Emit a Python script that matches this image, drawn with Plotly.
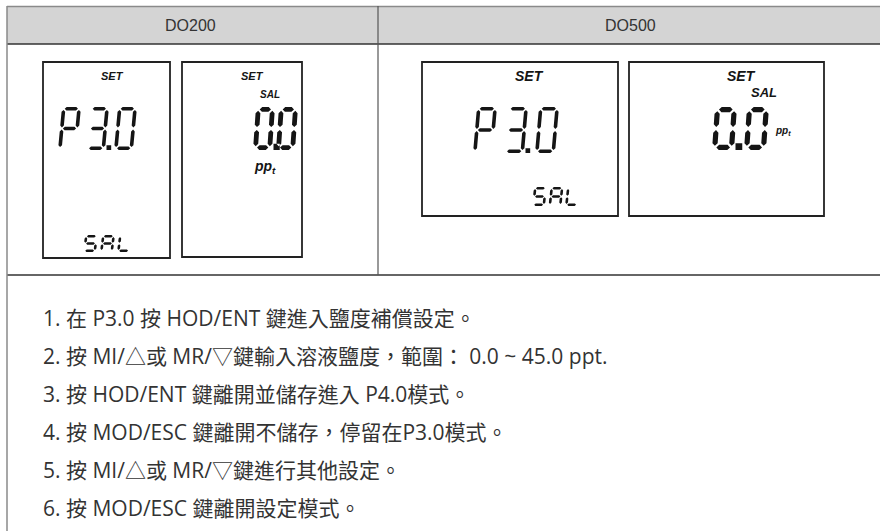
import plotly.graph_objects as go

# ---- content ----
headers = ["DO200", "DO500"]
lcd_main = ["P3.0", "0.0", "P3.0", "0.0"]
lcd_sub = ["SAL", "", "SAL", ""]
steps = [
    "1. 在 P3.0 按 HOD/ENT 鍵進入鹽度補償設定。",
    "2. 按 MI/△或 MR/▽鍵輸入溶液鹽度，範圍： 0.0 ~ 45.0 ppt.",
    "3. 按 HOD/ENT 鍵離開並儲存進入 P4.0模式。",
    "4. 按 MOD/ESC 鍵離開不儲存，停留在P3.0模式。",
    "5. 按 MI/△或 MR/▽鍵進行其他設定。",
    "6. 按 MOD/ESC 鍵離開設定模式。",
]

W_PX, H_PX = 880, 531
INK = "#151515"
TXT = "#333333"

SEGMAP = {
    "0": "abcdef", "3": "abcdg", "P": "abefg",
    "S": "afgcd", "A": "abcefg", "L": "def", " ": "",
}


def seg_polys(W, H, T):
    g = T * 0.3
    h2 = T / 2
    polys = {}

    def hseg(c):
        a, b = h2 + g, W - h2 - g
        return [(a, c), (a + h2, c - h2), (b - h2, c - h2), (b, c), (b - h2, c + h2), (a + h2, c + h2)]

    def vseg(c, top, bot):
        return [(c, top), (c + h2, top + h2), (c + h2, bot - h2), (c, bot), (c - h2, bot - h2), (c - h2, top + h2)]

    polys["a"] = hseg(h2)
    polys["g"] = hseg(H / 2)
    polys["d"] = hseg(H - h2)
    polys["f"] = vseg(h2, h2 + g, H / 2 - g)
    polys["b"] = vseg(W - h2, h2 + g, H / 2 - g)
    polys["e"] = vseg(h2, H / 2 + g, H - h2 - g)
    polys["c"] = vseg(W - h2, H / 2 + g, H - h2 - g)
    return polys


def seven_seg_path(text, x0, ytop, W, H, T, pitch, slant):
    parts = []

    def tr(u, v, cx):
        return (cx + u + slant * (H - v) / H, ytop + v)

    cx = x0
    last = x0
    polys = seg_polys(W, H, T)
    for ch in text:
        if ch == ".":
            d = T * 1.3
            ux = last + W + 1.5
            pts = [(ux, ytop + H - d), (ux + d, ytop + H - d), (ux + d, ytop + H), (ux, ytop + H)]
            parts.append("M " + " L ".join(f"{px:.2f},{py:.2f}" for px, py in pts) + " Z")
            continue
        for s in SEGMAP.get(ch, ""):
            pts = [tr(u, v, cx) for u, v in polys[s]]
            parts.append("M " + " L ".join(f"{px:.2f},{py:.2f}" for px, py in pts) + " Z")
        last = cx
        cx += pitch
    return " ".join(parts)


fig = go.Figure()
fig.add_trace(go.Scatter(x=[0], y=[0], mode="markers", marker=dict(opacity=0), hoverinfo="skip", showlegend=False))

shapes = []
# header band
shapes.append(dict(type="rect", x0=7, x1=W_PX + 5, y0=6, y1=44, fillcolor="#d4d4d4", line=dict(width=0), layer="below"))
shapes.append(dict(type="line", x0=7, x1=W_PX + 5, y0=6.5, y1=6.5, line=dict(color="#8a8a8a", width=1.5)))
shapes.append(dict(type="line", x0=7, x1=W_PX + 5, y0=44, y1=44, line=dict(color="#333333", width=1.5)))
shapes.append(dict(type="line", x0=7, x1=W_PX + 5, y0=275, y1=275, line=dict(color="#333333", width=1.5)))
shapes.append(dict(type="line", x0=7, x1=7, y0=6, y1=H_PX + 5, line=dict(color="#8a8a8a", width=1.5)))
shapes.append(dict(type="line", x0=378, x1=378, y0=6, y1=275, line=dict(color="#555555", width=1.2)))

# LCD frames
frames = [(43, 170, 62, 258), (182, 302, 62, 257), (422, 618, 62, 216), (629, 824, 62, 216)]
for fx0, fx1, fy0, fy1 in frames:
    shapes.append(dict(type="rect", x0=fx0, x1=fx1, y0=fy0, y1=fy1, line=dict(color="#222222", width=1.8), fillcolor="white"))

# seven segment digits
main_geom = [
    (58, 107, 19, 43, 3.6, 28, 4),
    (253, 107, 19, 43, 4.8, 23, 3),
    (473, 107, 20, 46, 3.6, 31, 4),
    (712, 107, 22, 43, 5.2, 32, 3),
]
sub_geom = [
    (83, 235, 13, 17, 2.6, 17, 2),
    None,
    (532, 187, 13, 19, 2.6, 16.5, 2),
    None,
]
for txt, gm in zip(lcd_main, main_geom):
    shapes.append(dict(type="path", path=seven_seg_path(txt, *gm), fillcolor=INK, line=dict(width=0)))
for txt, gm in zip(lcd_sub, sub_geom):
    if txt and gm:
        shapes.append(dict(type="path", path=seven_seg_path(txt, *gm), fillcolor=INK, line=dict(width=0)))

ann = []
# headers
for h, hx in zip(headers, [190, 630]):
    ann.append(dict(x=hx, y=25, text=h, showarrow=False, font=dict(family="Liberation Sans, Arial", size=16, color=TXT)))

LFONT = "Liberation Sans, Arial"
labels = [
    (112, 76, "<b><i>SET</i></b>", 11),
    (252, 76, "<b><i>SET</i></b>", 11),
    (270, 94, "<b><i>SAL</i></b>", 10),
    (265, 167, "<b><i>pp<sub>t</sub></i></b>", 14),
    (529, 76, "<b><i>SET</i></b>", 14),
    (741, 76, "<b><i>SET</i></b>", 14),
    (764, 92, "<b><i>SAL</i></b>", 13),
    (783, 131, "<b><i>pp<sub>t</sub></i></b>", 10),
]
for lx, ly, lt, ls in labels:
    ann.append(dict(x=lx, y=ly, text=lt, showarrow=False, font=dict(family=LFONT, size=ls, color=INK)))

for i, s in enumerate(steps):
    ann.append(dict(x=41, y=318 + 38 * i, text=s, showarrow=False, xanchor="left",
                    font=dict(family="Open Sans, Noto Sans CJK TC", size=21, color=TXT)))

fig.update_layout(
    width=W_PX, height=H_PX,
    margin=dict(l=0, r=0, t=0, b=0),
    paper_bgcolor="white", plot_bgcolor="white",
    xaxis=dict(range=[0, W_PX], visible=False, fixedrange=True),
    yaxis=dict(range=[H_PX, 0], visible=False, fixedrange=True),
    shapes=shapes, annotations=ann, showlegend=False,
)
fig.write_html("out.html", config={"displayModeBar": False},
               post_script="document.body.style.margin='0px';")
